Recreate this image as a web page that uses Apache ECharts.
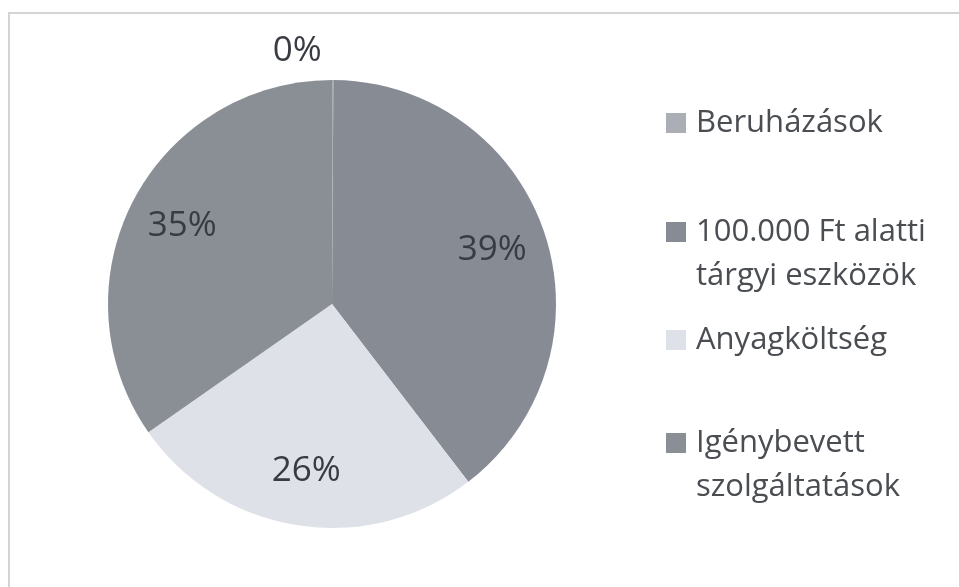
<!DOCTYPE html>
<html>
<head>
<meta charset="utf-8">
<script src="https://cdn.jsdelivr.net/npm/echarts@6/dist/echarts.min.js"></script>
<style>
html, body { margin: 0; padding: 0; background: #fff; }
#chart { width: 959px; height: 587px; }
</style>
</head>
<body>
<div id="chart"></div>
<script>
// kategóriák és értékek (%)
var names = ['Beruházások', '100.000 Ft alatti\ntárgyi eszközök', 'Anyagköltség', 'Igénybevett\nszolgáltatások'];
var values = [0.1, 39.49, 25.7, 34.71];
var colors = ['#abafb5', '#868b94', '#dee2e8', '#8a8e95'];

var font = 'Open Sans';
var mychart = echarts.init(document.getElementById('chart'));

function pctText(p) {
    return Math.round(p.percent) + '%';
}

// egy jelmagyarázat-elem; kétsoros szövegnél a négyzet az első sorhoz igazodik
function legendItem(name, top) {
    var twoLines = name.indexOf('\n') >= 0;
    return {
        data: [name],
        orient: 'vertical',
        left: 666,
        top: top,
        padding: 0,
        icon: twoLines ? 'path://M0,0h20v20h-20zM0,64h20' : 'rect',
        itemWidth: 20,
        itemHeight: twoLines ? 64 : 20,
        selectedMode: false,
        textStyle: {
            fontFamily: font,
            fontSize: 31,
            lineHeight: 44,
            color: '#4a4d52',
            padding: [0, 0, 0, 5]
        }
    };
}

var option = {
    backgroundColor: '#fff',
    animation: false,
    graphic: [{
        type: 'rect',
        shape: { x: 9, y: 13, width: 1000, height: 1000 },
        style: { fill: 'none', stroke: '#d4d4d4', lineWidth: 2 },
        silent: true
    }],
    legend: [
        legendItem(names[0], 101),
        legendItem(names[1], 210),
        legendItem(names[2], 318),
        legendItem(names[3], 421)
    ],
    series: [
        {
            type: 'pie',
            radius: 224,
            center: [332, 304],
            startAngle: 90,
            clockwise: true,
            avoidLabelOverlap: false,
            itemStyle: { borderWidth: 0 },
            emphasis: { disabled: true },
            label: {
                position: 'outside',
                formatter: pctText,
                fontFamily: font,
                fontSize: 35,
                color: '#383c42'
            },
            labelLine: { show: false, length: 0, length2: 0 },
            labelLayout: { dx: -65, dy: -29 },
            data: names.map(function (n, i) {
                return {
                    name: n,
                    value: values[i],
                    itemStyle: { color: colors[i] },
                    label: { show: i === 0 }
                };
            })
        },
        {
            // átlátszó réteg, csak a belső feliratok helyéhez
            type: 'pie',
            radius: 332,
            center: [332, 304],
            startAngle: 90,
            clockwise: true,
            silent: true,
            avoidLabelOverlap: false,
            itemStyle: { color: 'rgba(0,0,0,0)', borderWidth: 0 },
            emphasis: { disabled: true },
            label: {
                position: 'inside',
                formatter: pctText,
                fontFamily: font,
                fontSize: 35,
                color: '#383c42'
            },
            labelLine: { show: false },
            data: names.map(function (n, i) {
                return {
                    name: n,
                    value: values[i],
                    label: { show: i !== 0 }
                };
            })
        }
    ]
};
mychart.setOption(option);
</script>
</body>
</html>
